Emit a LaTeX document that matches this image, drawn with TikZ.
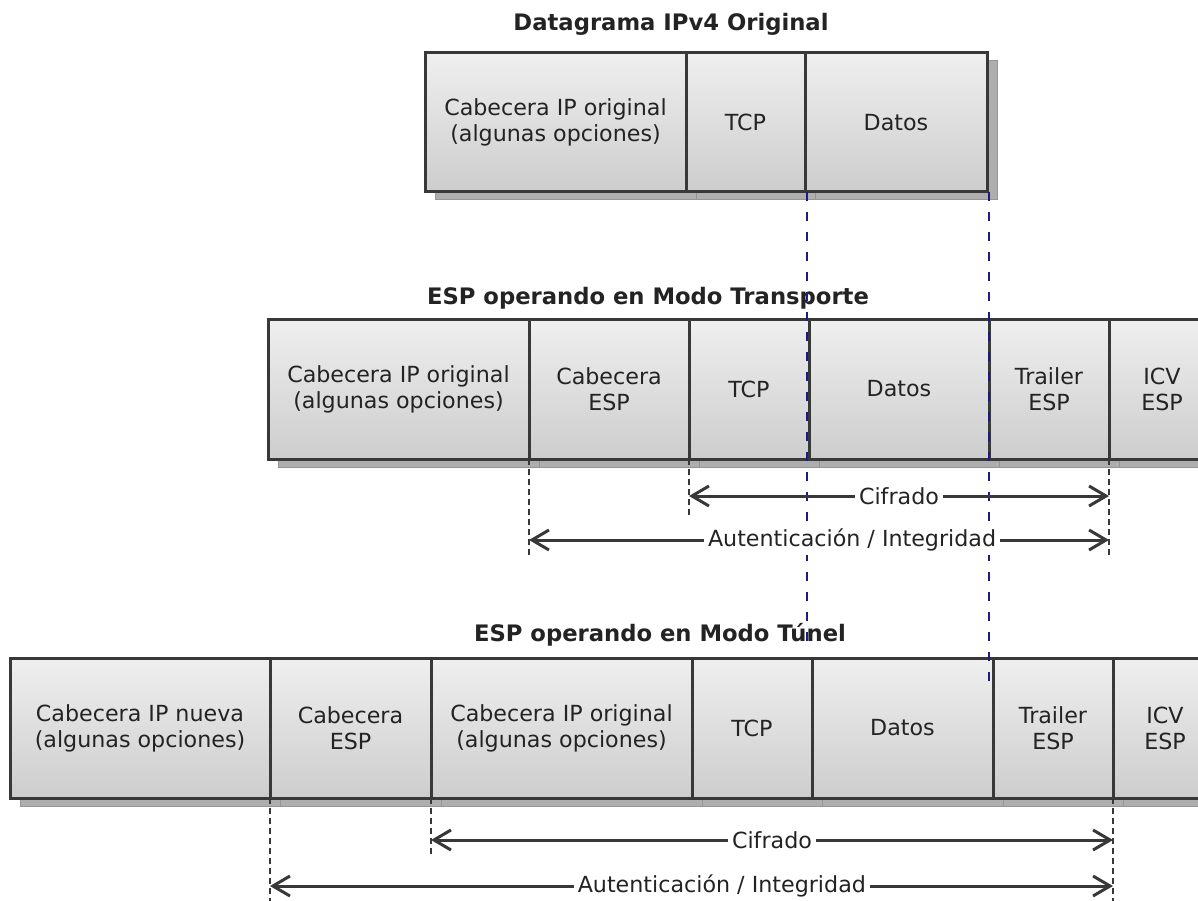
\documentclass[tikz,border=0pt]{standalone}
\usepackage{fontspec}
\setmainfont{DejaVu Sans}
\usetikzlibrary{shadows,arrows.meta,calc}

\definecolor{cellTop}{HTML}{EFEFEF}
\definecolor{cellBot}{HTML}{CDCDCD}
\definecolor{edge}{HTML}{383838}
\definecolor{ink}{HTML}{232323}
\definecolor{shade}{HTML}{AEAEAE}
\definecolor{shadeEdge}{HTML}{959595}
\definecolor{navy}{HTML}{1C1C80}

\newcommand\cellfont{\fontsize{22.2}{26}\selectfont}
\newcommand\headfont{\fontsize{22.7}{26}\selectfont\bfseries}

% one packet field: name, left x, right x, top y, bottom y, text
\newcommand\field[6]{%
  \node[cellbox, minimum width={#3-#2}, minimum height={#5-#4}]
    (#1) at ({(#2+#3)/2},{(#4+#5)/2}) {#6};}

\begin{document}
\begin{tikzpicture}[x=1pt,y=-1pt,
  every node/.style={text=ink},
  cellbox/.style={rectangle, draw=edge, line width=3pt, inner sep=0pt,
    outer sep=0pt, top color=cellTop, bottom color=cellBot, align=center,
    font=\cellfont,
    general shadow={fill=shade, draw=shadeEdge, line width=1pt,
      shadow xshift=10pt, shadow yshift=-8pt}},
  heading/.style={font=\headfont, anchor=base},
  ext/.style={draw=edge, line width=1.2pt, dash pattern=on 6pt off 4pt},
  guide/.style={draw=navy, line width=1.5pt, dash pattern=on 9pt off 11pt},
  span/.style={draw=edge, line width=3pt,
    {Straight Barb[length=17pt,width=20pt]}-{Straight Barb[length=17pt,width=20pt]}},
  spanlabel/.style={fill=white, inner sep=4pt, font=\cellfont}
]
\useasboundingbox (0,0) rectangle (1198,901);
\clip (0,0) rectangle (1198,901);

% ---- original IPv4 datagram
\node[heading] (hA) at (671,31) {Datagrama IPv4 Original};
\field{ipA}{425}{686}{53}{192}{Cabecera IP original\\(algunas opciones)}
\field{tcpA}{686}{805}{53}{192}{TCP}
\field{datA}{805}{987}{53}{192}{Datos}

% ---- transport mode
\node[heading] (hB) at (648,304) {ESP operando en Modo Transporte};
\field{ipB}{268}{529}{319}{459}{Cabecera IP original\\(algunas opciones)}
\field{espB}{529}{689}{319}{459}{Cabecera\\ESP}
\field{tcpB}{689}{809}{319}{459}{TCP}
\field{datB}{809}{989}{319}{459}{Datos}
\field{trlB}{989}{1109}{319}{459}{Trailer\\ESP}
\field{icvB}{1109}{1215}{319}{459}{ICV\\ESP}

% ---- tunnel mode
\node[heading] (hC) at (660,641) {ESP operando en Modo Túnel};
\field{newC}{10}{270}{658}{798}{Cabecera IP nueva\\(algunas opciones)}
\field{espC}{270}{431}{658}{798}{Cabecera\\ESP}
\field{ipC}{431}{692}{658}{798}{Cabecera IP original\\(algunas opciones)}
\field{tcpC}{692}{812}{658}{798}{TCP}
\field{datC}{812}{993}{658}{798}{Datos}
\field{trlC}{993}{1113}{658}{798}{Trailer\\ESP}
\field{icvC}{1113}{1217}{658}{798}{ICV\\ESP}

% ---- guides carrying the payload boundaries downwards
\draw[guide] ([xshift=2pt]datA.south west) -- ++(0,458);
\draw[guide] ([xshift=2pt]datA.south east) -- ++(0,493);

% ---- coverage of the transport mode
\coordinate (cB) at (0,496);
\coordinate (aB) at (0,540);
\coordinate (cBend) at (0,518);
\coordinate (aBend) at (0,557);
\draw[ext] (espB.south west) -- (espB.south west |- aBend);
\draw[ext] (tcpB.south west) -- (tcpB.south west |- cBend);
\draw[ext] (icvB.south west) -- (icvB.south west |- aBend);
\draw[span] (tcpB.south west |- cB) -- (icvB.south west |- cB)
  node[spanlabel, midway] (cifB) {Cifrado};
\draw[span] (espB.south west |- aB) -- (icvB.south west |- aB)
  node[spanlabel, pos=0.557] (autB) {Autenticación / Integridad};

% ---- coverage of the tunnel mode
\coordinate (cC) at (0,840);
\coordinate (aC) at (0,886);
\coordinate (cCend) at (0,856);
\coordinate (aCend) at (0,901);
\draw[ext] (espC.south west) -- (espC.south west |- aCend);
\draw[ext] (ipC.south west) -- (ipC.south west |- cCend);
\draw[ext] (icvC.south west) -- (icvC.south west |- aCend);
\draw[span] (ipC.south west |- cC) -- (icvC.south west |- cC)
  node[spanlabel, midway] (cifC) {Cifrado};
\draw[span] (espC.south west |- aC) -- (icvC.south west |- aC)
  node[spanlabel, pos=0.536] (autC) {Autenticación / Integridad};
\end{tikzpicture}
\end{document}
